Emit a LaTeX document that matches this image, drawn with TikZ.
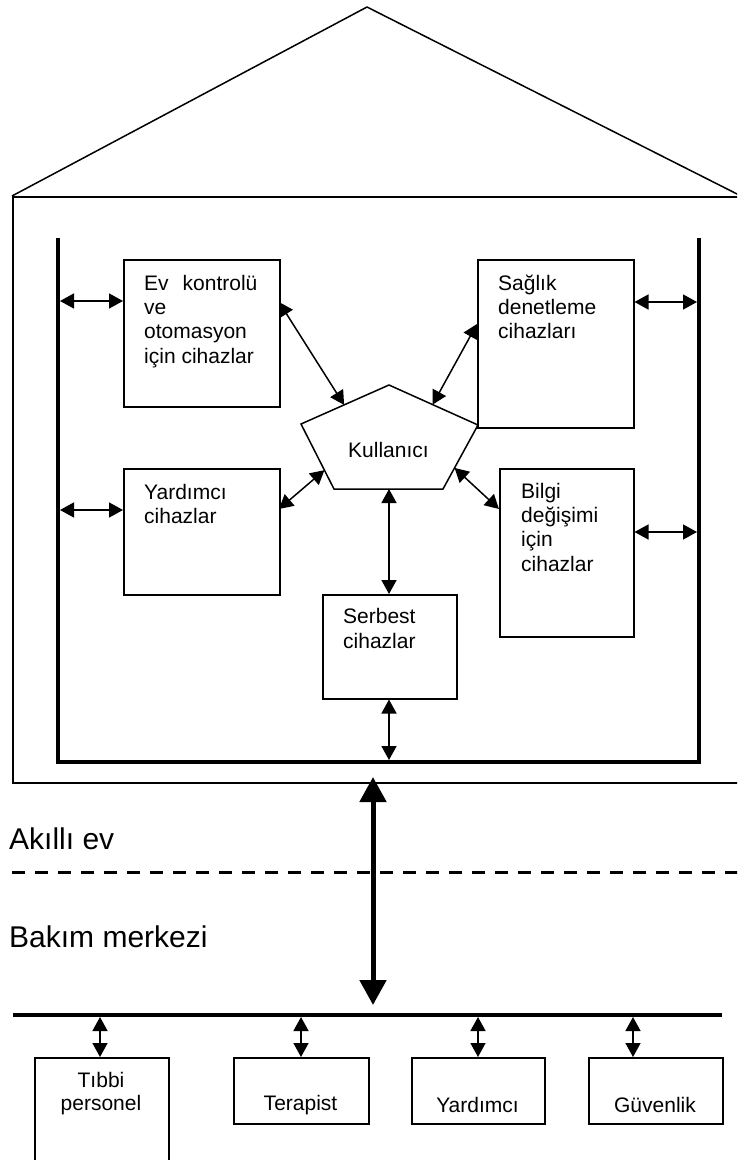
\documentclass[tikz,border=0pt]{standalone}
\usepackage{fontspec}
\setmainfont{Liberation Sans}
\usetikzlibrary{arrows.meta,calc}
\tikzset{
 box/.style={draw, line width=1.5pt, inner sep=0pt, anchor=north west},
 txt/.style={font=\fontsize{21}{24.3}\selectfont, align=left, inner sep=0pt, anchor=base west},
 ctxt/.style={font=\fontsize{21}{23}\selectfont, align=center, inner sep=0pt, anchor=base},
 big/.style={font=\fontsize{30}{34}\selectfont, inner sep=0pt, anchor=base west},
 arr/.style={line width=1.5pt, {Triangle[length=14pt,width=15pt]}-{Triangle[length=14pt,width=15pt]}},
 bigarr/.style={line width=5pt, {Triangle[length=25pt,width=26pt]}-{Triangle[length=25pt,width=26pt]}},
 bar/.style={line width=4pt, line join=miter},
}
\begin{document}
\begin{tikzpicture}[x=1pt,y=-1pt]
\useasboundingbox (0,0) rectangle (737,1160);
\clip (0,0) rectangle (737,1160);
% roof and house
\coordinate (hl) at (12,196);
\coordinate (hr) at (741,196);
\coordinate (apex) at (367,7);
\draw[line width=1.5pt] (hl) -- (apex) -- (hr);
\node[box, minimum width=729pt, minimum height=586pt] (house) at (12,196) {};
% inner U bar
\coordinate (ul) at (58,238);
\coordinate (bl) at (58,762);
\coordinate (br) at (699,762);
\coordinate (ur) at (699,238);
\draw[bar] (ul) -- (bl) -- (br) -- (ur);
% boxes
\node[box, minimum width=156pt, minimum height=147pt] (ev) at (123,259) {};
\node[box, minimum width=156pt, minimum height=168pt] (saglik) at (477,259) {};
\node[box, minimum width=156pt, minimum height=126pt] (yard) at (123,468) {};
\node[box, minimum width=134pt, minimum height=168pt] (bilgi) at (499,468) {};
\node[box, minimum width=134pt, minimum height=104pt] (serbest) at (322,594) {};
% texts (anchor = baseline of last line)
\node[txt] (evt) at (144,363) {Ev\hspace{14pt}kontrolü\\ve\\otomasyon\\için cihazlar};
\node[txt] (sagt) at (498,338.6) {Sağlık\\denetleme\\cihazları};
\node[txt] (yardt) at (144,523.3) {Yardımcı\\cihazlar};
\node[txt] (bilt) at (521,571) {Bilgi\\değişimi\\için\\cihazlar};
\node[txt] (sert) at (343,648) {Serbest\\cihazlar};
% user pentagon
\coordinate (p1) at (389,385);
\coordinate (p2) at (478,425);
\coordinate (p3) at (443,489);
\coordinate (p4) at (334,489);
\coordinate (p5) at (301,424);
\draw[line width=1.5pt, line join=miter] (p1) -- (p2) -- (p3) -- (p4) -- (p5) -- cycle;
\node[txt] (user) at (348,457) {Kullanıcı};
% arrows to bars
\coordinate (L1) at (60,301);
\draw[arr] (L1) -- (L1 -| ev.west);
\coordinate (L2) at (60,510);
\draw[arr] (L2) -- (L2 -| yard.west);
\coordinate (R1) at (697,302);
\draw[arr] (R1) -- (R1 -| saglik.east);
\coordinate (R2) at (697,532);
\draw[arr] (R2) -- (R2 -| bilgi.east);
% arrows to user
\coordinate (E1) at (279,302);
\draw[arr] (E1) -- ($(p5)!0.49!(p1)$);
\coordinate (S1) at (477,324);
\draw[arr] (S1) -- ($(p1)!0.49!(p2)$);
\coordinate (Y1) at (279,509);
\draw[arr] (Y1) -- ($(p5)!0.71!(p4)$);
\coordinate (B1) at (499,509);
\draw[arr] (B1) -- ($(p2)!0.67!(p3)$);
\coordinate (U1) at (389,489);
\draw[arr] (U1) -- (U1 |- serbest.north);
\coordinate (U2) at (389,760);
\draw[arr] (U2 |- serbest.south) -- (U2);
% labels and divider
\node[big] (akilli) at (9,849) {Akıllı ev};
\node[big] (bakim) at (9,947) {Bakım merkezi};
\coordinate (d1) at (12,872);
\coordinate (d2) at (750,872);
\draw[line width=3pt, dash pattern=on 13pt off 10pt] (d1) -- (d2);
% care center bus
\coordinate (c1) at (13,1015);
\coordinate (c2) at (722,1015);
\draw[line width=4.5pt] (c1) -- (c2);
\coordinate (h1) at (373,782);
\coordinate (b1) at (373,1015);
\draw[bigarr, shorten <=-5pt, shorten >=10pt] (h1) -- (b1);
% bottom boxes
\node[box, minimum width=134pt, minimum height=200pt] (tibbi) at (34,1057) {};
\node[box, minimum width=135pt, minimum height=66pt] (terapist) at (233,1057) {};
\node[box, minimum width=133pt, minimum height=66pt] (yardb) at (411,1057) {};
\node[box, minimum width=134pt, minimum height=66pt] (guv) at (588,1057) {};
\node[ctxt] (tibbit) at (101,1110) {Tıbbi\\personel};
\node[ctxt] (tert) at (300.5,1110) {Terapist};
\node[ctxt] (yardbt) at (477.5,1112) {Yardımcı};
\node[ctxt] (guvt) at (655,1112) {Güvenlik};
\coordinate (t1) at (100,1017);
\draw[arr] (t1) -- (t1 |- tibbi.north);
\coordinate (t2) at (301,1017);
\draw[arr] (t2) -- (t2 |- terapist.north);
\coordinate (t3) at (478,1017);
\draw[arr] (t3) -- (t3 |- yardb.north);
\coordinate (t4) at (633,1017);
\draw[arr] (t4) -- (t4 |- guv.north);
\end{tikzpicture}
\end{document}
